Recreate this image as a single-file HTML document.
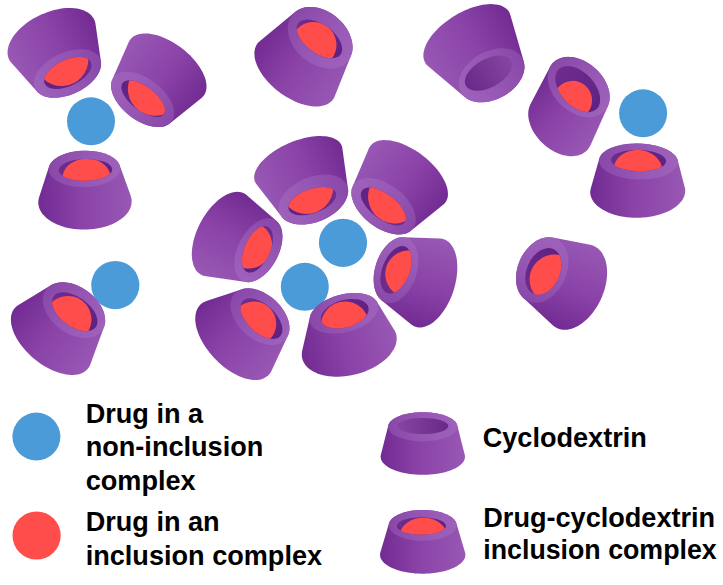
<!DOCTYPE html>
<html><head><meta charset="utf-8"><title>Cyclodextrin complexes</title>
<style>html,body{margin:0;padding:0;background:#fff}svg{display:block}text{font-family:"Liberation Sans",sans-serif;font-weight:bold;font-size:27.1px;fill:#000}</style></head><body>
<svg width="723" height="585" viewBox="0 0 723 585">
<defs><linearGradient id="gb" x1="0" y1="0" x2="1" y2="0"><stop offset="0" stop-color="#712b92"/><stop offset="0.45" stop-color="#8a42a7"/><stop offset="1" stop-color="#9858b4"/></linearGradient><linearGradient id="gr" x1="0" y1="0" x2="1" y2="0"><stop offset="0" stop-color="#8948a8"/><stop offset="0.5" stop-color="#9657b4"/><stop offset="1" stop-color="#9e62bb"/></linearGradient><linearGradient id="gh" x1="0" y1="0" x2="1" y2="0"><stop offset="0" stop-color="#8645a2"/><stop offset="1" stop-color="#692989"/></linearGradient><linearGradient id="ghd" x1="0" y1="0" x2="1" y2="0"><stop offset="0" stop-color="#6d2c8e"/><stop offset="1" stop-color="#5f2283"/></linearGradient></defs>
<rect width="723" height="585" fill="#fff"/>
<circle cx="91" cy="121.3" r="24" fill="#4b9bd9"/>
<circle cx="643.1" cy="113.3" r="24" fill="#4b9bd9"/>
<circle cx="115.3" cy="285.1" r="24.1" fill="#4b9bd9"/>
<circle cx="343" cy="242.8" r="24.1" fill="#4b9bd9"/>
<circle cx="304.8" cy="286.8" r="24" fill="#4b9bd9"/>
<circle cx="36.4" cy="436.6" r="24" fill="#4b9bd9"/>
<circle cx="36.6" cy="535.5" r="24.1" fill="#ff4d4c"/>
<g transform="translate(67.5,73.5) rotate(155)"><path d="M-47.0,37.5 -46.9,35.6 -46.5,33.7 -35.0,-4.4 -34.4,-5.8 -33.6,-7.2 -32.7,-8.5 -31.6,-9.9 -30.4,-11.1 -29.0,-12.3 -27.4,-13.5 -25.8,-14.6 -23.9,-15.6 -22.0,-16.6 -20.0,-17.4 -17.9,-18.2 -15.7,-18.9 -13.4,-19.5 -11.1,-20.0 -8.7,-20.4 -6.2,-20.7 -3.7,-20.9 -1.2,-21.0 1.2,-21.0 3.7,-20.9 6.2,-20.7 8.7,-20.4 11.1,-20.0 13.4,-19.5 15.7,-18.9 17.9,-18.2 20.0,-17.4 22.0,-16.6 23.9,-15.6 25.8,-14.6 27.4,-13.5 29.0,-12.3 30.4,-11.1 31.6,-9.9 32.7,-8.5 33.6,-7.2 34.4,-5.8 35.0,-4.4 46.5,33.7 46.9,35.6 47.0,37.5 46.9,39.4 46.5,41.3 46.0,43.1 45.2,44.9 44.2,46.7 42.9,48.5 41.5,50.2 39.9,51.8 38.0,53.4 36.0,54.9 33.8,56.3 31.4,57.6 28.9,58.8 26.3,59.9 23.5,60.9 20.6,61.8 17.6,62.5 14.5,63.2 11.4,63.7 8.2,64.1 4.9,64.3 1.6,64.5 -1.6,64.5 -4.9,64.3 -8.2,64.1 -11.4,63.7 -14.5,63.2 -17.6,62.5 -20.6,61.8 -23.5,60.9 -26.3,59.9 -28.9,58.8 -31.4,57.6 -33.8,56.3 -36.0,54.9 -38.0,53.4 -39.9,51.8 -41.5,50.2 -42.9,48.5 -44.2,46.7 -45.2,44.9 -46.0,43.1 -46.5,41.3 -46.9,39.4Z" fill="url(#gb)"/><ellipse rx="35.8" ry="21" fill="url(#gr)"/><ellipse cx="-0.5" cy="0.3" rx="25.5" ry="13" fill="url(#ghd)"/><clipPath id="c0"><ellipse cx="-0.5" cy="0.3" rx="25.5" ry="13"/></clipPath><ellipse cx="-0.6" cy="15.4" rx="26.8" ry="26.8" fill="#ff4d4c" clip-path="url(#c0)"/></g>
<g transform="translate(142.6,99.4) rotate(217.5)"><path d="M-46.2,40.0 -46.1,38.3 -45.8,36.6 -36.1,-2.9 -35.7,-4.3 -35.1,-5.7 -34.3,-7.1 -33.3,-8.5 -32.2,-9.8 -30.9,-11.0 -29.5,-12.2 -28.0,-13.4 -26.3,-14.4 -24.4,-15.5 -22.5,-16.4 -20.4,-17.2 -18.2,-18.0 -16.0,-18.7 -13.7,-19.3 -11.3,-19.8 -8.8,-20.2 -6.3,-20.5 -3.8,-20.7 -1.3,-20.8 1.3,-20.8 3.8,-20.7 6.3,-20.5 8.8,-20.2 11.3,-19.8 13.7,-19.3 16.0,-18.7 18.2,-18.0 20.4,-17.2 22.5,-16.4 24.4,-15.5 26.3,-14.4 28.0,-13.4 29.5,-12.2 30.9,-11.0 32.2,-9.8 33.3,-8.5 34.3,-7.1 35.1,-5.7 35.7,-4.3 36.1,-2.9 45.8,36.6 46.1,38.3 46.2,40.0 46.1,41.7 45.8,43.4 45.2,45.1 44.4,46.8 43.4,48.4 42.2,50.0 40.8,51.5 39.2,53.0 37.4,54.4 35.4,55.8 33.2,57.0 30.9,58.2 28.4,59.3 25.8,60.3 23.1,61.2 20.2,62.0 17.3,62.7 14.3,63.3 11.2,63.8 8.0,64.1 4.8,64.4 1.6,64.5 -1.6,64.5 -4.8,64.4 -8.0,64.1 -11.2,63.8 -14.3,63.3 -17.3,62.7 -20.2,62.0 -23.1,61.2 -25.8,60.3 -28.4,59.3 -30.9,58.2 -33.2,57.0 -35.4,55.8 -37.4,54.4 -39.2,53.0 -40.8,51.5 -42.2,50.0 -43.4,48.4 -44.4,46.8 -45.2,45.1 -45.8,43.4 -46.1,41.7Z" fill="url(#gb)"/><ellipse rx="36.5" ry="20.8" fill="url(#gr)"/><ellipse cx="0" cy="0.9" rx="25.9" ry="12" fill="url(#ghd)"/><clipPath id="c1"><ellipse cx="0" cy="0.9" rx="25.9" ry="12"/></clipPath><ellipse cx="-3.2" cy="15.7" rx="26.8" ry="26.8" fill="#ff4d4c" clip-path="url(#c1)"/></g>
<g transform="translate(84.4,168.9) rotate(-1)"><path d="M-46.7,33.0 -46.6,31.1 -46.2,29.1 -45.7,27.2 -35.5,-2.5 -35.0,-3.8 -34.4,-5.0 -33.6,-6.2 -32.7,-7.4 -31.6,-8.5 -30.4,-9.6 -29.0,-10.7 -27.4,-11.7 -25.8,-12.6 -23.9,-13.5 -22.0,-14.3 -20.0,-15.1 -17.9,-15.8 -15.7,-16.4 -13.4,-16.9 -11.1,-17.3 -8.7,-17.7 -6.2,-17.9 -3.7,-18.1 -1.2,-18.2 1.2,-18.2 3.7,-18.1 6.2,-17.9 8.7,-17.7 11.1,-17.3 13.4,-16.9 15.7,-16.4 17.9,-15.8 20.0,-15.1 22.0,-14.3 23.9,-13.5 25.8,-12.6 27.4,-11.7 29.0,-10.7 30.4,-9.6 31.6,-8.5 32.7,-7.4 33.6,-6.2 34.4,-5.0 35.0,-3.8 35.5,-2.5 45.7,27.2 46.2,29.1 46.6,31.1 46.7,33.0 46.6,34.9 46.2,36.9 45.7,38.8 44.9,40.6 43.9,42.5 42.7,44.3 41.2,46.0 39.6,47.7 37.8,49.3 35.8,50.8 33.6,52.2 31.2,53.6 28.8,54.8 26.1,56.0 23.4,57.0 20.5,57.9 17.5,58.7 14.4,59.3 11.3,59.9 8.1,60.3 4.9,60.5 1.6,60.7 -1.6,60.7 -4.9,60.5 -8.1,60.3 -11.3,59.9 -14.4,59.3 -17.5,58.7 -20.5,57.9 -23.4,57.0 -26.1,56.0 -28.8,54.8 -31.2,53.6 -33.6,52.2 -35.8,50.8 -37.8,49.3 -39.6,47.7 -41.2,46.0 -42.7,44.3 -43.9,42.5 -44.9,40.6 -45.7,38.8 -46.2,36.9 -46.6,34.9Z" fill="url(#gb)"/><ellipse rx="35.8" ry="18.2" fill="url(#gr)"/><ellipse cx="1.0" cy="1" rx="26.8" ry="10.9" fill="url(#ghd)"/><clipPath id="c2"><ellipse cx="1.0" cy="1" rx="26.8" ry="10.9"/></clipPath><ellipse cx="2" cy="9.6" rx="24.3" ry="20" fill="#ff4d4c" clip-path="url(#c2)"/></g>
<g transform="translate(320.2,37.8) rotate(36.5)"><path d="M-47.0,42.0 -46.9,40.2 -46.5,38.4 -35.5,-6.2 -34.9,-7.9 -34.2,-9.7 -33.3,-11.3 -32.2,-13.0 -31.0,-14.6 -29.6,-16.0 -28.1,-17.5 -26.5,-18.8 -24.7,-20.0 -22.8,-21.2 -20.8,-22.2 -18.7,-23.2 -16.5,-24.0 -14.2,-24.7 -11.8,-25.3 -9.4,-25.7 -7.0,-26.1 -4.5,-26.3 -1.9,-26.4 0.6,-26.3 3.1,-26.1 5.6,-25.8 8.1,-25.4 10.5,-24.9 12.9,-24.2 15.2,-23.4 17.5,-22.5 19.6,-21.5 21.7,-20.3 23.7,-19.1 25.5,-17.8 27.2,-16.4 28.8,-14.9 30.3,-13.4 31.6,-11.8 32.8,-10.1 33.7,-8.4 34.6,-6.6 35.2,-4.8 35.7,-3.0 46.5,38.4 46.9,40.2 47.0,42.0 46.9,43.8 46.5,45.6 46.0,47.4 45.2,49.2 44.2,50.9 42.9,52.6 41.5,54.2 39.9,55.8 38.0,57.3 36.0,58.7 33.8,60.1 31.4,61.3 28.9,62.5 26.3,63.5 23.5,64.5 20.6,65.4 17.6,66.1 14.5,66.7 11.4,67.2 8.2,67.6 4.9,67.9 1.6,68.0 -1.6,68.0 -4.9,67.9 -8.2,67.6 -11.4,67.2 -14.5,66.7 -17.6,66.1 -20.6,65.4 -23.5,64.5 -26.3,63.5 -28.9,62.5 -31.4,61.3 -33.8,60.1 -36.0,58.7 -38.0,57.3 -39.9,55.8 -41.5,54.2 -42.9,52.6 -44.2,50.9 -45.2,49.2 -46.0,47.4 -46.5,45.6 -46.9,43.8Z" fill="url(#gb)"/><ellipse rx="36.2" ry="26.3" fill="url(#gr)" transform="rotate(4)"/><ellipse cx="0" cy="1.2" rx="26.3" ry="14.2" fill="url(#ghd)"/><clipPath id="c3"><ellipse cx="0" cy="1.2" rx="26.3" ry="14.2"/></clipPath><ellipse cx="-1.2" cy="9.7" rx="23" ry="23" fill="#ff4d4c" clip-path="url(#c3)"/></g>
<g transform="translate(491.6,75.3) rotate(151)"><path d="M-46.0,47.1 -45.9,45.4 -45.6,43.6 -34.9,-3.3 -34.4,-5.0 -33.8,-6.6 -33.1,-8.2 -32.2,-9.8 -31.1,-11.3 -29.9,-12.7 -28.5,-14.1 -27.0,-15.4 -25.3,-16.7 -23.6,-17.8 -21.7,-18.9 -19.7,-19.9 -17.6,-20.8 -15.4,-21.6 -13.2,-22.2 -10.9,-22.8 -8.5,-23.3 -6.1,-23.6 -3.7,-23.9 -1.2,-24.0 1.2,-24.0 3.7,-23.9 6.1,-23.6 8.5,-23.3 10.9,-22.8 13.2,-22.2 15.4,-21.6 17.6,-20.8 19.7,-19.9 21.7,-18.9 23.6,-17.8 25.3,-16.7 27.0,-15.4 28.5,-14.1 29.9,-12.7 31.1,-11.3 32.2,-9.8 33.1,-8.2 33.8,-6.6 51.3,39.4 51.8,41.1 52.0,42.9 51.9,44.6 51.6,46.4 51.1,48.1 50.4,49.8 49.4,51.5 48.2,53.2 46.7,54.8 45.1,56.4 43.2,58.0 41.2,59.4 39.0,60.8 36.6,62.1 34.0,63.4 31.3,64.5 28.4,65.6 25.4,66.5 22.4,67.4 19.2,68.1 15.9,68.7 12.6,69.2 9.2,69.6 5.8,69.9 2.4,70.0 -1.0,70.1 -4.4,70.0 -7.8,69.8 -11.1,69.4 -14.3,69.0 -17.5,68.4 -20.5,67.7 -23.5,66.9 -26.3,66.0 -28.9,65.0 -31.5,63.9 -33.8,62.7 -36.0,61.4 -37.9,60.0 -39.7,58.6 -41.3,57.1 -42.6,55.5 -43.8,53.9 -44.7,52.3 -45.3,50.6 -45.8,48.9Z" fill="url(#gb)"/><ellipse rx="35.2" ry="24" fill="url(#gr)"/><ellipse cx="1.7" cy="3.4" rx="25.8" ry="14.2" fill="url(#gh)"/></g>
<g transform="translate(578.7,87.1) rotate(42.7)"><path d="M-35.4,0.0 -35.3,-1.7 -35.1,-3.5 -34.6,-5.2 -34.0,-6.9 -33.3,-8.6 -32.3,-10.2 -31.3,-11.7 -30.0,-13.2 -28.6,-14.7 -27.1,-16.1 -25.5,-17.4 -23.7,-18.6 -21.8,-19.7 -19.8,-20.7 -17.7,-21.6 -15.5,-22.5 -13.3,-23.2 -10.9,-23.8 -8.6,-24.3 -6.2,-24.6 -3.7,-24.9 -1.2,-25.0 1.2,-25.0 3.7,-24.9 6.2,-24.6 8.6,-24.3 10.9,-23.8 13.3,-23.2 15.5,-22.5 17.7,-21.6 19.8,-20.7 21.8,-19.7 23.7,-18.6 25.5,-17.4 27.1,-16.1 28.6,-14.7 30.0,-13.2 31.3,-11.7 32.3,-10.2 33.3,-8.6 34.0,-6.9 34.6,-5.2 48.2,35.0 48.6,36.8 48.9,38.5 49.0,40.3 48.9,42.1 48.6,43.9 48.2,45.6 47.6,47.3 46.8,49.0 45.8,50.7 44.7,52.3 43.4,53.8 42.0,55.3 40.4,56.7 38.7,58.0 36.8,59.2 34.9,60.4 32.8,61.4 30.6,62.4 28.3,63.2 26.0,63.9 23.6,64.5 21.1,65.0 18.6,65.4 16.1,65.7 13.5,65.8 10.9,65.8 8.3,65.7 5.8,65.4 3.3,65.0 0.8,64.5 -1.6,63.9 -3.9,63.2 -6.2,62.4 -8.4,61.4 -10.5,60.4 -12.4,59.2 -14.3,58.0 -16.0,56.7 -17.6,55.3 -19.0,53.8 -20.3,52.3 -21.4,50.7 -22.4,49.0 -23.2,47.3 -23.8,45.6 -34.6,5.2 -35.1,3.5 -35.3,1.7Z" fill="url(#gb)"/><ellipse rx="35.4" ry="25" fill="url(#gr)"/><ellipse cx="0.6" cy="2.1" rx="27.5" ry="16.8" fill="url(#ghd)" transform="rotate(4 0.6 2.1)"/><clipPath id="c5"><ellipse cx="0.6" cy="2.1" rx="27.5" ry="16.8" transform="rotate(4 0.6 2.1)"/></clipPath><ellipse cx="4.5" cy="13.9" rx="19.5" ry="19.5" fill="#ff4d4c" clip-path="url(#c5)"/></g>
<g transform="translate(638.5,161.5) rotate(1.5)"><path d="M-47.5,32.1 -47.4,30.2 -47.1,28.4 -39.1,-2.5 -38.6,-3.7 -38.0,-5.0 -37.1,-6.2 -36.1,-7.3 -34.9,-8.4 -33.5,-9.5 -32.0,-10.6 -30.3,-11.6 -28.4,-12.5 -26.4,-13.4 -24.3,-14.2 -22.1,-14.9 -19.8,-15.6 -17.3,-16.2 -14.8,-16.7 -12.2,-17.1 -9.6,-17.5 -6.9,-17.7 -4.1,-17.9 -1.4,-18.0 1.4,-18.0 4.1,-17.9 6.9,-17.7 9.6,-17.5 12.2,-17.1 14.8,-16.7 17.3,-16.2 19.8,-15.6 22.1,-14.9 24.3,-14.2 26.4,-13.4 28.4,-12.5 30.3,-11.6 32.0,-10.6 33.5,-9.5 34.9,-8.4 36.1,-7.3 37.1,-6.2 38.0,-5.0 38.6,-3.7 39.1,-2.5 46.8,24.3 47.3,26.1 47.5,27.9 47.4,29.8 47.1,31.6 46.7,33.4 45.9,35.2 45.0,37.0 43.8,38.8 42.4,40.5 40.9,42.2 39.1,43.8 37.1,45.3 34.9,46.8 32.6,48.1 30.1,49.4 27.5,50.6 24.7,51.7 21.8,52.7 18.8,53.6 15.8,54.4 12.6,55.0 9.4,55.5 6.1,55.9 2.8,56.2 -0.5,56.3 -3.8,56.4 -7.1,56.2 -10.4,56.0 -13.6,55.6 -16.7,55.1 -19.8,54.5 -22.7,53.8 -25.6,52.9 -28.3,52.0 -30.9,50.9 -33.3,49.7 -35.6,48.5 -37.7,47.1 -39.6,45.7 -41.4,44.2 -42.9,42.6 -44.2,40.9 -45.3,39.2 -46.2,37.5 -46.8,35.7 -47.3,33.9Z" fill="url(#gb)"/><ellipse rx="39.5" ry="18" fill="url(#gr)"/><ellipse cx="0" cy="-1" rx="27.6" ry="10.5" fill="url(#ghd)"/><clipPath id="c6"><ellipse cx="0" cy="-1" rx="27.6" ry="10.5"/></clipPath><ellipse cx="-0.5" cy="8.4" rx="24.3" ry="20" fill="#ff4d4c" clip-path="url(#c6)"/></g>
<g transform="translate(542.2,270) rotate(-66)"><path d="M-47.0,37.5 -46.9,35.5 -46.6,33.6 -46.0,31.7 -33.5,-5.0 -33.0,-6.7 -32.2,-8.3 -31.3,-9.9 -30.3,-11.4 -29.1,-12.9 -27.8,-14.3 -26.3,-15.6 -24.7,-16.9 -22.9,-18.1 -21.1,-19.1 -19.2,-20.1 -17.1,-21.0 -15.0,-21.8 -12.8,-22.5 -10.6,-23.1 -8.3,-23.6 -6.0,-23.9 -3.6,-24.2 -1.2,-24.3 1.2,-24.3 3.6,-24.2 6.0,-23.9 8.3,-23.6 10.6,-23.1 12.8,-22.5 15.0,-21.8 17.1,-21.0 19.2,-20.1 21.1,-19.1 22.9,-18.1 24.7,-16.9 26.3,-15.6 27.8,-14.3 29.1,-12.9 30.3,-11.4 31.3,-9.9 32.2,-8.3 33.0,-6.7 33.5,-5.0 34.0,-3.4 42.6,33.6 42.9,35.5 43.0,37.5 42.9,39.5 42.6,41.4 42.0,43.3 41.3,45.2 40.3,47.1 39.1,48.9 37.7,50.6 36.2,52.3 34.4,54.0 32.5,55.5 30.4,57.0 28.1,58.3 25.7,59.6 23.2,60.7 20.5,61.8 17.7,62.7 14.9,63.5 11.9,64.1 8.9,64.7 5.8,65.1 2.7,65.3 -0.4,65.5 -3.6,65.5 -6.7,65.3 -9.8,65.1 -12.9,64.7 -15.9,64.1 -18.9,63.5 -21.7,62.7 -24.5,61.8 -27.2,60.7 -29.7,59.6 -32.1,58.3 -34.4,57.0 -36.5,55.5 -38.4,54.0 -40.2,52.3 -41.7,50.6 -43.1,48.9 -44.3,47.1 -45.3,45.2 -46.0,43.3 -46.6,41.4 -46.9,39.5Z" fill="url(#gb)"/><ellipse rx="34.3" ry="24.3" fill="url(#gr)"/><ellipse cx="-0.8" cy="1.6" rx="24.5" ry="16.5" fill="url(#ghd)"/><clipPath id="c7"><ellipse cx="-0.8" cy="1.6" rx="24.5" ry="16.5"/></clipPath><ellipse cx="-3.6" cy="14.8" rx="24.7" ry="24.7" fill="#ff4d4c" clip-path="url(#c7)"/></g>
<g transform="translate(74,310.2) rotate(36.5)"><path d="M-48.9,33.8 -48.7,32.0 -48.3,30.2 -47.6,28.4 -33.5,-6.4 -32.7,-8.0 -31.8,-9.5 -30.7,-10.9 -29.5,-12.3 -28.1,-13.7 -26.7,-15.0 -25.0,-16.2 -23.3,-17.3 -21.4,-18.4 -19.5,-19.3 -17.4,-20.2 -15.3,-20.9 -13.0,-21.6 -10.8,-22.2 -8.4,-22.6 -6.0,-22.9 -3.6,-23.2 -1.2,-23.3 1.2,-23.3 3.6,-23.2 6.0,-22.9 8.4,-22.6 10.8,-22.2 13.0,-21.6 15.3,-20.9 17.4,-20.2 19.5,-19.3 21.4,-18.4 23.3,-17.3 25.0,-16.2 26.7,-15.0 28.1,-13.7 29.5,-12.3 30.7,-10.9 31.8,-9.5 32.7,-8.0 33.5,-6.4 34.0,-4.8 45.2,33.2 45.7,35.1 45.9,36.9 45.9,38.8 45.7,40.6 45.3,42.4 44.6,44.2 43.7,46.0 42.6,47.7 41.3,49.3 39.7,50.9 38.0,52.4 36.1,53.9 34.0,55.2 31.7,56.5 29.2,57.6 26.6,58.7 23.9,59.6 21.0,60.5 18.1,61.2 15.0,61.8 11.8,62.2 8.6,62.6 5.4,62.8 2.1,62.9 -1.2,62.8 -4.5,62.7 -7.8,62.4 -11.1,61.9 -14.3,61.4 -17.5,60.7 -20.6,59.9 -23.5,59.0 -26.4,58.0 -29.2,56.9 -31.8,55.6 -34.3,54.3 -36.6,52.9 -38.7,51.4 -40.7,49.8 -42.5,48.2 -44.0,46.5 -45.4,44.8 -46.5,43.0 -47.5,41.2 -48.2,39.4 -48.7,37.5 -48.9,35.7Z" fill="url(#gb)"/><ellipse rx="34.8" ry="23.3" fill="url(#gr)"/><ellipse cx="1.5" cy="0.8" rx="26.1" ry="14.7" fill="url(#ghd)"/><clipPath id="c8"><ellipse cx="1.5" cy="0.8" rx="26.1" ry="14.7"/></clipPath><ellipse cx="0.6" cy="11" rx="23.5" ry="23.5" fill="#ff4d4c" clip-path="url(#c8)"/></g>
<g transform="translate(313.4,199.5) rotate(157.2)"><path d="M-47.0,38.9 -46.9,37.3 -46.5,35.8 -36.1,-3.1 -35.7,-4.7 -35.1,-6.2 -34.3,-7.7 -33.3,-9.2 -32.2,-10.6 -30.9,-11.9 -29.5,-13.2 -28.0,-14.5 -26.3,-15.6 -24.4,-16.7 -22.5,-17.7 -20.4,-18.6 -18.2,-19.5 -16.0,-20.2 -13.7,-20.9 -11.3,-21.4 -8.8,-21.8 -6.3,-22.2 -3.8,-22.4 -1.3,-22.5 1.3,-22.5 3.8,-22.4 6.3,-22.2 8.8,-21.8 11.3,-21.4 13.7,-20.9 16.0,-20.2 18.2,-19.5 20.4,-18.6 22.5,-17.7 24.4,-16.7 26.3,-15.6 28.0,-14.5 29.5,-13.2 30.9,-11.9 32.2,-10.6 33.3,-9.2 34.3,-7.7 35.1,-6.2 35.7,-4.7 36.1,-3.1 46.5,35.8 46.9,37.3 47.0,38.9 46.9,40.5 46.5,42.0 46.0,43.6 45.2,45.1 44.2,46.6 42.9,48.0 41.5,49.5 39.9,50.8 38.0,52.1 36.0,53.4 33.8,54.5 31.4,55.6 28.9,56.6 26.3,57.5 23.5,58.4 20.6,59.1 17.6,59.8 14.5,60.3 11.4,60.7 8.2,61.1 4.9,61.3 1.6,61.4 -1.6,61.4 -4.9,61.3 -8.2,61.1 -11.4,60.7 -14.5,60.3 -17.6,59.8 -20.6,59.1 -23.5,58.4 -26.3,57.5 -28.9,56.6 -31.4,55.6 -33.8,54.5 -36.0,53.4 -38.0,52.1 -39.9,50.8 -41.5,49.5 -42.9,48.0 -44.2,46.6 -45.2,45.1 -46.0,43.6 -46.5,42.0 -46.9,40.5Z" fill="url(#gb)"/><ellipse rx="36.5" ry="22.5" fill="url(#gr)"/><ellipse cx="1.7" cy="-1.1" rx="25" ry="12.1" fill="url(#ghd)" transform="rotate(3.3 1.7 -1.1)"/><clipPath id="c9"><ellipse cx="1.7" cy="-1.1" rx="25" ry="12.1" transform="rotate(3.3 1.7 -1.1)"/></clipPath><ellipse cx="1.6" cy="14" rx="26.8" ry="26.8" fill="#ff4d4c" clip-path="url(#c9)"/></g>
<g transform="translate(383.6,206.2) rotate(217.2)"><path d="M-47.0,40.0 -46.9,38.3 -46.5,36.7 -36.6,-3.0 -36.2,-4.5 -35.6,-6.0 -34.8,-7.4 -33.8,-8.8 -32.7,-10.2 -31.4,-11.5 -29.9,-12.8 -28.3,-13.9 -26.6,-15.1 -24.8,-16.1 -22.8,-17.1 -20.7,-18.0 -18.5,-18.8 -16.2,-19.5 -13.9,-20.1 -11.4,-20.6 -8.9,-21.1 -6.4,-21.4 -3.9,-21.6 -1.3,-21.7 1.3,-21.7 3.9,-21.6 6.4,-21.4 8.9,-21.1 11.4,-20.6 13.9,-20.1 16.2,-19.5 18.5,-18.8 20.7,-18.0 22.8,-17.1 24.8,-16.1 26.6,-15.1 28.3,-13.9 29.9,-12.8 31.4,-11.5 32.7,-10.2 33.8,-8.8 34.8,-7.4 35.6,-6.0 36.2,-4.5 36.6,-3.0 46.5,36.7 46.9,38.3 47.0,40.0 46.9,41.7 46.5,43.3 46.0,45.0 45.2,46.6 44.2,48.2 42.9,49.8 41.5,51.3 39.9,52.7 38.0,54.1 36.0,55.4 33.8,56.7 31.4,57.8 28.9,58.9 26.3,59.9 23.5,60.8 20.6,61.6 17.6,62.2 14.5,62.8 11.4,63.3 8.2,63.6 4.9,63.9 1.6,64.0 -1.6,64.0 -4.9,63.9 -8.2,63.6 -11.4,63.3 -14.5,62.8 -17.6,62.2 -20.6,61.6 -23.5,60.8 -26.3,59.9 -28.9,58.9 -31.4,57.8 -33.8,56.7 -36.0,55.4 -38.0,54.1 -39.9,52.7 -41.5,51.3 -42.9,49.8 -44.2,48.2 -45.2,46.6 -46.0,45.0 -46.5,43.3 -46.9,41.7Z" fill="url(#gb)"/><ellipse rx="37" ry="21.7" fill="url(#gr)"/><ellipse cx="0" cy="-0.4" rx="26.7" ry="12.4" fill="url(#ghd)"/><clipPath id="c10"><ellipse cx="0" cy="-0.4" rx="26.7" ry="12.4"/></clipPath><ellipse cx="-3.2" cy="14.4" rx="26.8" ry="26.8" fill="#ff4d4c" clip-path="url(#c10)"/></g>
<g transform="translate(396,270.1) rotate(-72.2)"><path d="M-48.0,36.0 -47.9,34.3 -47.5,32.5 -47.0,30.8 -33.3,-4.3 -32.7,-5.7 -31.9,-7.1 -31.1,-8.5 -30.0,-9.8 -28.8,-11.0 -27.5,-12.2 -26.1,-13.4 -24.5,-14.4 -22.8,-15.5 -20.9,-16.4 -19.0,-17.2 -17.0,-18.0 -14.9,-18.7 -12.7,-19.3 -10.5,-19.8 -8.2,-20.2 -5.9,-20.5 -3.5,-20.7 -1.2,-20.8 1.2,-20.8 3.5,-20.7 5.9,-20.5 8.2,-20.2 10.5,-19.8 12.7,-19.3 14.9,-18.7 17.0,-18.0 19.0,-17.2 20.9,-16.4 22.8,-15.5 24.5,-14.4 26.1,-13.4 27.5,-12.2 28.8,-11.0 30.0,-9.8 31.1,-8.5 31.9,-7.1 32.7,-5.7 33.3,-4.3 33.7,-2.9 43.5,32.5 43.9,34.3 44.0,36.0 43.9,37.7 43.5,39.5 43.0,41.2 42.2,42.9 41.2,44.5 40.0,46.2 38.6,47.7 37.0,49.2 35.2,50.7 33.2,52.1 31.1,53.4 28.8,54.6 26.3,55.7 23.7,56.7 21.0,57.6 18.2,58.5 15.2,59.2 12.2,59.8 9.1,60.3 6.0,60.6 2.8,60.9 -0.4,61.0 -3.6,61.0 -6.8,60.9 -10.0,60.6 -13.1,60.3 -16.2,59.8 -19.2,59.2 -22.2,58.5 -25.0,57.6 -27.7,56.7 -30.3,55.7 -32.8,54.6 -35.1,53.4 -37.2,52.1 -39.2,50.7 -41.0,49.2 -42.6,47.7 -44.0,46.2 -45.2,44.5 -46.2,42.9 -47.0,41.2 -47.5,39.5 -47.9,37.7Z" fill="url(#gb)"/><ellipse rx="34" ry="20.8" fill="url(#gr)"/><ellipse cx="0.3" cy="0" rx="24.9" ry="13.7" fill="url(#ghd)" transform="rotate(3.5 0.3 0)"/><clipPath id="c11"><ellipse cx="0.3" cy="0" rx="24.9" ry="13.7" transform="rotate(3.5 0.3 0)"/></clipPath><ellipse cx="0.2" cy="13.5" rx="23.7" ry="23.7" fill="#ff4d4c" clip-path="url(#c11)"/></g>
<g transform="translate(344,313.3) rotate(-14.6)"><path d="M-51.8,33.5 -51.7,31.5 -51.3,29.5 -50.7,27.6 -49.9,25.6 -33.8,-5.2 -33.1,-6.5 -32.2,-7.7 -31.1,-8.9 -29.9,-10.0 -28.5,-11.1 -27.0,-12.2 -25.3,-13.1 -23.6,-14.1 -21.7,-14.9 -19.7,-15.7 -17.6,-16.4 -15.4,-17.0 -13.2,-17.5 -10.9,-18.0 -8.5,-18.3 -6.1,-18.6 -3.7,-18.8 -1.2,-18.9 1.2,-18.9 3.7,-18.8 6.1,-18.6 8.5,-18.3 10.9,-18.0 13.2,-17.5 15.4,-17.0 17.6,-16.4 19.7,-15.7 21.7,-14.9 23.6,-14.1 25.3,-13.1 27.0,-12.2 28.5,-11.1 29.9,-10.0 31.1,-8.9 32.2,-7.7 33.1,-6.5 33.8,-5.2 34.4,-3.9 34.9,-2.6 44.1,27.6 44.7,29.5 45.1,31.5 45.2,33.5 45.1,35.5 44.7,37.5 44.1,39.4 43.3,41.4 42.3,43.2 41.0,45.1 39.5,46.9 37.8,48.6 35.9,50.2 33.9,51.8 31.6,53.3 29.1,54.7 26.6,56.0 23.8,57.1 20.9,58.2 18.0,59.1 14.9,59.9 11.7,60.6 8.4,61.1 5.1,61.6 1.8,61.8 -1.6,62.0 -5.0,62.0 -8.4,61.8 -11.7,61.6 -15.0,61.1 -18.3,60.6 -21.5,59.9 -24.6,59.1 -27.6,58.2 -30.4,57.1 -33.2,56.0 -35.8,54.7 -38.2,53.3 -40.5,51.8 -42.5,50.2 -44.4,48.6 -46.1,46.9 -47.6,45.1 -48.9,43.2 -49.9,41.4 -50.7,39.4 -51.3,37.5 -51.7,35.5Z" fill="url(#gb)"/><ellipse rx="35.2" ry="18.9" fill="url(#gr)"/><ellipse cx="0.6" cy="0.6" rx="24.6" ry="13.7" fill="url(#ghd)" transform="rotate(-1.5 0.6 0.6)"/><clipPath id="c12"><ellipse cx="0.6" cy="0.6" rx="24.6" ry="13.7" transform="rotate(-1.5 0.6 0.6)"/></clipPath><ellipse cx="-2" cy="12" rx="24" ry="24" fill="#ff4d4c" clip-path="url(#c12)"/></g>
<g transform="translate(260,316.7) rotate(42.3)"><path d="M-52.2,33.0 -52.2,31.1 -51.9,29.2 -51.4,27.4 -50.7,25.6 -49.8,23.8 -32.2,-7.6 -31.3,-9.1 -30.3,-10.5 -29.1,-11.8 -27.8,-13.1 -26.3,-14.3 -24.7,-15.5 -22.9,-16.6 -21.1,-17.6 -19.2,-18.5 -17.1,-19.3 -15.0,-20.0 -12.8,-20.7 -10.6,-21.2 -8.3,-21.6 -6.0,-22.0 -3.6,-22.2 -1.2,-22.3 1.2,-22.3 3.6,-22.2 6.0,-22.0 8.3,-21.6 10.6,-21.2 12.8,-20.7 15.0,-20.0 17.1,-19.3 19.2,-18.5 21.1,-17.6 22.9,-16.6 24.7,-15.5 26.3,-14.3 27.8,-13.1 29.1,-11.8 30.3,-10.5 31.3,-9.1 32.2,-7.6 33.0,-6.2 33.5,-4.6 44.9,32.2 45.4,34.1 45.6,36.0 45.6,37.9 45.3,39.8 44.8,41.6 44.1,43.4 43.2,45.2 42.0,46.9 40.6,48.6 39.0,50.2 37.2,51.7 35.1,53.1 32.9,54.4 30.6,55.7 28.0,56.8 25.3,57.8 22.5,58.7 19.5,59.5 16.4,60.2 13.3,60.8 10.0,61.2 6.7,61.5 3.3,61.6 -0.1,61.6 -3.5,61.5 -6.9,61.3 -10.3,60.9 -13.6,60.4 -16.9,59.8 -20.2,59.1 -23.4,58.2 -26.4,57.2 -29.4,56.1 -32.2,54.9 -34.9,53.6 -37.4,52.2 -39.8,50.8 -42.0,49.2 -44.0,47.6 -45.8,45.9 -47.3,44.1 -48.7,42.3 -49.9,40.5 -50.8,38.6 -51.5,36.8 -52.0,34.9Z" fill="url(#gb)"/><ellipse rx="34.3" ry="22.3" fill="url(#gr)"/><ellipse cx="2.4" cy="0.5" rx="25.7" ry="13.9" fill="url(#ghd)" transform="rotate(1 2.4 0.5)"/><clipPath id="c13"><ellipse cx="2.4" cy="0.5" rx="25.7" ry="13.9" transform="rotate(1 2.4 0.5)"/></clipPath><ellipse cx="0.3" cy="9.2" rx="22.2" ry="22.2" fill="#ff4d4c" clip-path="url(#c13)"/></g>
<g transform="translate(258.3,250.2) rotate(118)"><path d="M-43.5,39.0 -43.4,37.3 -43.0,35.5 -34.3,-2.8 -33.8,-4.2 -33.3,-5.6 -32.5,-6.9 -31.6,-8.2 -30.6,-9.5 -29.3,-10.7 -28.0,-11.9 -26.5,-13.0 -24.9,-14.0 -23.1,-15.0 -21.3,-15.9 -19.4,-16.8 -17.3,-17.5 -15.2,-18.2 -13.0,-18.7 -10.7,-19.2 -8.4,-19.6 -6.0,-19.9 -3.6,-20.1 -1.2,-20.2 1.2,-20.2 3.6,-20.1 6.0,-19.9 8.4,-19.6 10.7,-19.2 13.0,-18.7 15.2,-18.2 17.3,-17.5 19.4,-16.8 21.3,-15.9 23.1,-15.0 24.9,-14.0 26.5,-13.0 28.0,-11.9 29.3,-10.7 30.6,-9.5 31.6,-8.2 32.5,-6.9 33.3,-5.6 33.8,-4.2 47.5,33.8 48.0,35.5 48.4,37.3 48.5,39.0 48.4,40.7 48.0,42.5 47.5,44.2 46.7,45.9 45.7,47.5 44.5,49.2 43.1,50.7 41.5,52.2 39.7,53.7 37.7,55.1 35.6,56.4 33.3,57.6 30.8,58.7 28.2,59.7 25.5,60.6 22.7,61.5 19.7,62.2 16.7,62.8 13.6,63.3 10.5,63.6 7.3,63.9 4.1,64.0 0.9,64.0 -2.3,63.9 -5.5,63.6 -8.6,63.3 -11.7,62.8 -14.7,62.2 -17.7,61.5 -20.5,60.6 -23.2,59.7 -25.8,58.7 -28.3,57.6 -30.6,56.4 -32.7,55.1 -34.7,53.7 -36.5,52.2 -38.1,50.7 -39.5,49.2 -40.7,47.5 -41.7,45.9 -42.5,44.2 -43.0,42.5 -43.4,40.7Z" fill="url(#gb)"/><ellipse rx="34.6" ry="20.2" fill="url(#gr)"/><ellipse cx="-0.4" cy="1.2" rx="24.9" ry="12.7" fill="url(#ghd)" transform="rotate(-3.5 -0.4 1.2)"/><clipPath id="c14"><ellipse cx="-0.4" cy="1.2" rx="24.9" ry="12.7" transform="rotate(-3.5 -0.4 1.2)"/></clipPath><ellipse cx="0" cy="11" rx="23.5" ry="23.5" fill="#ff4d4c" clip-path="url(#c14)"/></g>
<g transform="translate(422.8,426.8) rotate(0)"><path d="M-42.2,30.0 -42.1,28.7 -41.8,27.5 -34.6,-1.0 -34.4,-2.0 -33.9,-3.0 -33.4,-4.0 -32.6,-5.0 -31.7,-5.9 -30.6,-6.8 -29.4,-7.7 -28.1,-8.6 -26.6,-9.4 -25.0,-10.1 -23.2,-10.8 -21.4,-11.5 -19.4,-12.1 -17.4,-12.6 -15.2,-13.1 -13.0,-13.5 -10.7,-13.9 -8.4,-14.2 -6.0,-14.4 -3.6,-14.5 -1.2,-14.6 1.2,-14.6 3.6,-14.5 6.0,-14.4 8.4,-14.2 10.7,-13.9 13.0,-13.5 15.2,-13.1 17.4,-12.6 19.4,-12.1 21.4,-11.5 23.2,-10.8 25.0,-10.1 26.6,-9.4 28.1,-8.6 29.4,-7.7 30.6,-6.8 31.7,-5.9 32.6,-5.0 33.4,-4.0 33.9,-3.0 34.4,-2.0 34.6,-1.0 41.8,27.5 42.1,28.7 42.2,30.0 42.1,31.3 41.8,32.5 41.3,33.7 40.6,35.0 39.7,36.2 38.5,37.3 37.3,38.5 35.8,39.5 34.1,40.6 32.3,41.6 30.4,42.5 28.2,43.4 26.0,44.2 23.6,44.9 21.1,45.6 18.5,46.2 15.8,46.7 13.0,47.1 10.2,47.5 7.3,47.7 4.4,47.9 1.5,48.0 -1.5,48.0 -4.4,47.9 -7.3,47.7 -10.2,47.5 -13.0,47.1 -15.8,46.7 -18.5,46.2 -21.1,45.6 -23.6,44.9 -26.0,44.2 -28.2,43.4 -30.4,42.5 -32.3,41.6 -34.1,40.6 -35.8,39.5 -37.3,38.5 -38.5,37.3 -39.7,36.2 -40.6,35.0 -41.3,33.7 -41.8,32.5 -42.1,31.3Z" fill="url(#gb)"/><ellipse rx="34.7" ry="14.6" fill="url(#gr)"/><ellipse cx="0" cy="-0.8" rx="25.6" ry="8" fill="url(#gh)"/></g>
<g transform="translate(422.7,525.3) rotate(0)"><path d="M-42.7,29.5 -42.6,28.2 -42.3,26.9 -33.7,-2.1 -33.3,-3.2 -32.7,-4.2 -31.9,-5.3 -31.1,-6.3 -30.0,-7.2 -28.8,-8.2 -27.5,-9.1 -26.1,-9.9 -24.5,-10.7 -22.8,-11.4 -20.9,-12.1 -19.0,-12.8 -17.0,-13.3 -14.9,-13.8 -12.7,-14.3 -10.5,-14.7 -8.2,-14.9 -5.9,-15.2 -3.5,-15.3 -1.2,-15.4 1.2,-15.4 3.5,-15.3 5.9,-15.2 8.2,-14.9 10.5,-14.7 12.7,-14.3 14.9,-13.8 17.0,-13.3 19.0,-12.8 20.9,-12.1 22.8,-11.4 24.5,-10.7 26.1,-9.9 27.5,-9.1 28.8,-8.2 30.0,-7.2 31.1,-6.3 31.9,-5.3 32.7,-4.2 33.3,-3.2 33.7,-2.1 42.3,26.9 42.6,28.2 42.7,29.5 42.6,30.8 42.3,32.1 41.8,33.4 41.0,34.7 40.1,36.0 39.0,37.2 37.7,38.4 36.2,39.5 34.5,40.6 32.7,41.6 30.7,42.6 28.6,43.5 26.3,44.4 23.9,45.2 21.4,45.9 18.7,46.5 16.0,47.0 13.2,47.5 10.3,47.8 7.4,48.1 4.5,48.3 1.5,48.4 -1.5,48.4 -4.5,48.3 -7.4,48.1 -10.3,47.8 -13.2,47.5 -16.0,47.0 -18.7,46.5 -21.4,45.9 -23.9,45.2 -26.3,44.4 -28.6,43.5 -30.7,42.6 -32.7,41.6 -34.5,40.6 -36.2,39.5 -37.7,38.4 -39.0,37.2 -40.1,36.0 -41.0,34.7 -41.8,33.4 -42.3,32.1 -42.6,30.8Z" fill="url(#gb)"/><ellipse rx="34" ry="15.4" fill="url(#gr)"/><ellipse cx="-1.3" cy="0.7" rx="24.6" ry="8.7" fill="url(#ghd)"/><clipPath id="c16"><ellipse cx="-1.3" cy="0.7" rx="24.6" ry="8.7"/></clipPath><ellipse cx="0.6" cy="10.2" rx="23.5" ry="17.8" fill="#ff4d4c" clip-path="url(#c16)"/></g>
<text x="85.7" y="422.7">Drug in a</text>
<text x="85.7" y="456.4">non-inclusion</text>
<text x="85.7" y="490.1">complex</text>
<text x="85.7" y="531.0">Drug in an</text>
<text x="85.7" y="564.7">inclusion complex</text>
<text x="482.7" y="447.3">Cyclodextrin</text>
<text x="483.3" y="527.1">Drug-cyclodextrin</text>
<text x="483.3" y="559.4" style="font-size:26.75px">inclusion complex</text>
</svg></body></html>
